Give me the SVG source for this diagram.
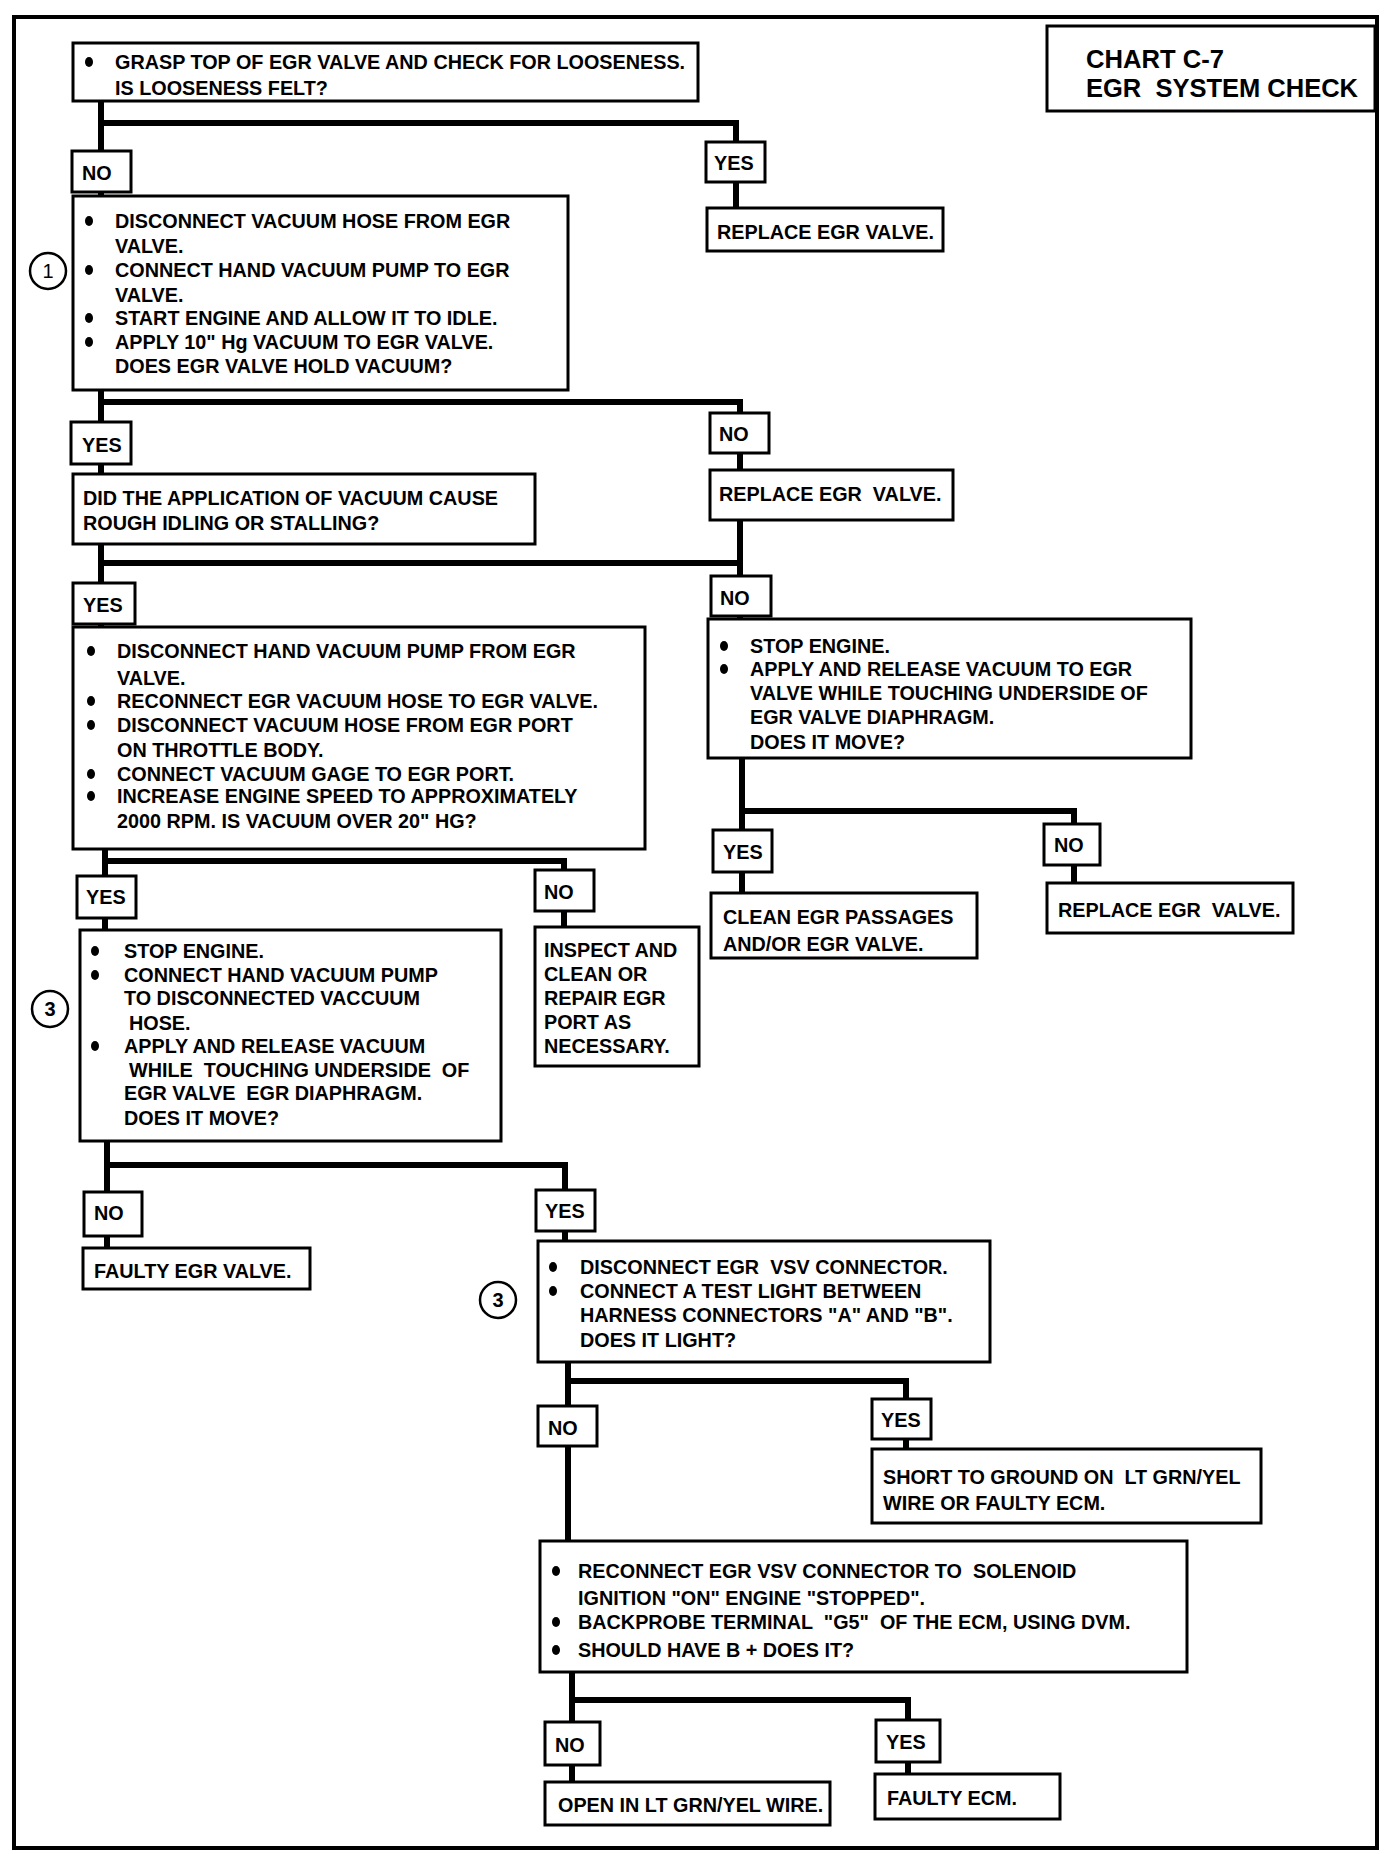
<svg xmlns="http://www.w3.org/2000/svg" width="1392" height="1854" viewBox="0 0 1392 1854" xml:space="preserve">
<style>
.bx{fill:#fff;stroke:#000;stroke-width:3}
.lb{fill:#fff;stroke:#000;stroke-width:3}
.t{font-family:"Liberation Sans",Arial,sans-serif;font-weight:bold;font-size:19.8px;fill:#000;white-space:pre}
.ti{font-family:"Liberation Sans",Arial,sans-serif;font-weight:bold;font-size:25px;fill:#000;white-space:pre}
.cn{fill:none;stroke:#000;stroke-width:6}
.bu{fill:#000}
.cc{fill:#fff;stroke:#000;stroke-width:2.5}
.cnum{font-family:"Liberation Sans",Arial,sans-serif;font-size:20px;fill:#000;text-anchor:middle}
</style>
<rect x="0" y="0" width="1392" height="1854" fill="#fff"/>
<rect x="14" y="17" width="1363" height="1831" fill="none" stroke="#000" stroke-width="4"/>
<g id="title">
<rect x="1047" y="26" width="328" height="85" class="bx"/>
<text class="ti" x="1086" y="68" textLength="138" lengthAdjust="spacingAndGlyphs">CHART C-7</text>
<text class="ti" x="1086" y="97" textLength="272" lengthAdjust="spacingAndGlyphs">EGR  SYSTEM CHECK</text>
</g>
<g id="connectors">
<path class="cn" d="M101 100 V196 M101 123 H736 V208"/>
<path class="cn" d="M101 390 V627 M101 402 H740 V619 M101 563 H740"/>
<path class="cn" d="M105 849 V930 M105 861 H564 V927"/>
<path class="cn" d="M742 758 V893 M742 811 H1074 V883"/>
<path class="cn" d="M107 1141 V1248 M107 1165 H565 V1241"/>
<path class="cn" d="M568 1362 V1541 M568 1381 H906 V1449"/>
<path class="cn" d="M572 1672 V1782 M572 1700 H908 V1774"/>
</g>
<g id="q1">
<rect x="73" y="43" width="625" height="58" class="bx"/>
<ellipse class="bu" cx="89" cy="62" rx="4" ry="5"/>
<text class="t" x="115" y="69">GRASP TOP OF EGR VALVE AND CHECK FOR LOOSENESS.</text>
<text class="t" x="115" y="95">IS LOOSENESS FELT?</text>
</g>
<g id="q1-no"><rect x="72" y="151" width="59" height="41" class="lb"/><text class="t" x="82" y="180">NO</text></g>
<g id="q1-yes"><rect x="706" y="142" width="59" height="40" class="lb"/><text class="t" x="714" y="170">YES</text></g>
<g id="replace1"><rect x="707" y="208" width="236" height="43" class="bx"/><text class="t" x="717" y="239">REPLACE EGR VALVE.</text></g>
<g id="step1">
<rect x="73" y="196" width="495" height="194" class="bx"/>
<ellipse class="bu" cx="89" cy="221" rx="4" ry="5"/>
<ellipse class="bu" cx="89" cy="270" rx="4" ry="5"/>
<ellipse class="bu" cx="89" cy="318" rx="4" ry="5"/>
<ellipse class="bu" cx="89" cy="342" rx="4" ry="5"/>
<text class="t" x="115" y="228">DISCONNECT VACUUM HOSE FROM EGR</text>
<text class="t" x="115" y="253">VALVE.</text>
<text class="t" x="115" y="277">CONNECT HAND VACUUM PUMP TO EGR</text>
<text class="t" x="115" y="302">VALVE.</text>
<text class="t" x="115" y="325">START ENGINE AND ALLOW IT TO IDLE.</text>
<text class="t" x="115" y="349">APPLY 10" Hg VACUUM TO EGR VALVE.</text>
<text class="t" x="115" y="373">DOES EGR VALVE HOLD VACUUM?</text>
<circle class="cc" cx="48" cy="271" r="18"/>
<text class="cnum" x="48" y="278">1</text>
</g>
<g id="step1-yes"><rect x="71" y="422" width="60" height="42" class="lb"/><text class="t" x="82" y="452">YES</text></g>
<g id="step1-no"><rect x="710" y="413" width="59" height="40" class="lb"/><text class="t" x="719" y="441">NO</text></g>
<g id="replace2"><rect x="710" y="470" width="243" height="50" class="bx"/><text class="t" x="719" y="501">REPLACE EGR  VALVE.</text></g>
<g id="q2">
<rect x="73" y="474" width="462" height="70" class="bx"/>
<text class="t" x="83" y="505">DID THE APPLICATION OF VACUUM CAUSE</text>
<text class="t" x="83" y="530">ROUGH IDLING OR STALLING?</text>
</g>
<g id="q2-yes"><rect x="73" y="583" width="62" height="41" class="lb"/><text class="t" x="83" y="612">YES</text></g>
<g id="q2-no"><rect x="711" y="576" width="60" height="40" class="lb"/><text class="t" x="720" y="605">NO</text></g>
<g id="step2">
<rect x="73" y="627" width="572" height="222" class="bx"/>
<ellipse class="bu" cx="91" cy="651" rx="4" ry="5"/>
<ellipse class="bu" cx="91" cy="701" rx="4" ry="5"/>
<ellipse class="bu" cx="91" cy="725" rx="4" ry="5"/>
<ellipse class="bu" cx="91" cy="774" rx="4" ry="5"/>
<ellipse class="bu" cx="91" cy="796" rx="4" ry="5"/>
<text class="t" x="117" y="658">DISCONNECT HAND VACUUM PUMP FROM EGR</text>
<text class="t" x="117" y="685">VALVE.</text>
<text class="t" x="117" y="708">RECONNECT EGR VACUUM HOSE TO EGR VALVE.</text>
<text class="t" x="117" y="732">DISCONNECT VACUUM HOSE FROM EGR PORT</text>
<text class="t" x="117" y="757">ON THROTTLE BODY.</text>
<text class="t" x="117" y="781">CONNECT VACUUM GAGE TO EGR PORT.</text>
<text class="t" x="117" y="803">INCREASE ENGINE SPEED TO APPROXIMATELY</text>
<text class="t" x="117" y="828">2000 RPM. IS VACUUM OVER 20" HG?</text>
</g>
<g id="step3">
<rect x="708" y="619" width="483" height="139" class="bx"/>
<ellipse class="bu" cx="724" cy="646" rx="4" ry="5"/>
<ellipse class="bu" cx="724" cy="669" rx="4" ry="5"/>
<text class="t" x="750" y="653">STOP ENGINE.</text>
<text class="t" x="750" y="676">APPLY AND RELEASE VACUUM TO EGR</text>
<text class="t" x="750" y="700">VALVE WHILE TOUCHING UNDERSIDE OF</text>
<text class="t" x="750" y="724">EGR VALVE DIAPHRAGM.</text>
<text class="t" x="750" y="749">DOES IT MOVE?</text>
</g>
<g id="step3-yes"><rect x="713" y="830" width="59" height="42" class="lb"/><text class="t" x="723" y="859">YES</text></g>
<g id="step3-no"><rect x="1044" y="824" width="56" height="41" class="lb"/><text class="t" x="1054" y="852">NO</text></g>
<g id="clean"><rect x="711" y="893" width="266" height="65" class="bx"/>
<text class="t" x="723" y="924">CLEAN EGR PASSAGES</text>
<text class="t" x="723" y="951">AND/OR EGR VALVE.</text></g>
<g id="replace3"><rect x="1047" y="883" width="246" height="50" class="bx"/><text class="t" x="1058" y="917">REPLACE EGR  VALVE.</text></g>
<g id="step2-yes"><rect x="77" y="876" width="59" height="42" class="lb"/><text class="t" x="86" y="904">YES</text></g>
<g id="step2-no"><rect x="535" y="870" width="59" height="41" class="lb"/><text class="t" x="544" y="899">NO</text></g>
<g id="inspect"><rect x="535" y="927" width="164" height="139" class="bx"/>
<text class="t" x="544" y="957">INSPECT AND</text>
<text class="t" x="544" y="981">CLEAN OR</text>
<text class="t" x="544" y="1005">REPAIR EGR</text>
<text class="t" x="544" y="1029">PORT AS</text>
<text class="t" x="544" y="1053">NECESSARY.</text></g>
<g id="step4">
<rect x="80" y="930" width="421" height="211" class="bx"/>
<ellipse class="bu" cx="95" cy="951" rx="4" ry="5"/>
<ellipse class="bu" cx="95" cy="975" rx="4" ry="5"/>
<ellipse class="bu" cx="95" cy="1046" rx="4" ry="5"/>
<text class="t" x="124" y="958">STOP ENGINE.</text>
<text class="t" x="124" y="982">CONNECT HAND VACUUM PUMP</text>
<text class="t" x="124" y="1005">TO DISCONNECTED VACCUUM</text>
<text class="t" x="129" y="1030">HOSE.</text>
<text class="t" x="124" y="1053">APPLY AND RELEASE VACUUM</text>
<text class="t" x="129" y="1077">WHILE  TOUCHING UNDERSIDE  OF</text>
<text class="t" x="124" y="1100">EGR VALVE  EGR DIAPHRAGM.</text>
<text class="t" x="124" y="1125">DOES IT MOVE?</text>
<circle class="cc" cx="50" cy="1009" r="18"/>
<text class="cnum" x="50" y="1016" font-weight="bold">3</text>
</g>
<g id="step4-no"><rect x="84" y="1192" width="58" height="44" class="lb"/><text class="t" x="94" y="1220">NO</text></g>
<g id="step4-yes"><rect x="536" y="1190" width="59" height="41" class="lb"/><text class="t" x="545" y="1218">YES</text></g>
<g id="faulty-egr"><rect x="83" y="1248" width="227" height="41" class="bx"/><text class="t" x="94" y="1278">FAULTY EGR VALVE.</text></g>
<g id="step5">
<rect x="538" y="1241" width="452" height="121" class="bx"/>
<ellipse class="bu" cx="553" cy="1267" rx="4" ry="5"/>
<ellipse class="bu" cx="553" cy="1291" rx="4" ry="5"/>
<text class="t" x="580" y="1274">DISCONNECT EGR  VSV CONNECTOR.</text>
<text class="t" x="580" y="1298">CONNECT A TEST LIGHT BETWEEN</text>
<text class="t" x="580" y="1322">HARNESS CONNECTORS "A" AND "B".</text>
<text class="t" x="580" y="1347">DOES IT LIGHT?</text>
<circle class="cc" cx="498" cy="1300" r="18"/>
<text class="cnum" x="498" y="1307" font-weight="bold">3</text>
</g>
<g id="step5-no"><rect x="538" y="1406" width="59" height="40" class="lb"/><text class="t" x="548" y="1435">NO</text></g>
<g id="step5-yes"><rect x="872" y="1399" width="59" height="40" class="lb"/><text class="t" x="881" y="1427">YES</text></g>
<g id="short"><rect x="872" y="1449" width="389" height="74" class="bx"/>
<text class="t" x="883" y="1484">SHORT TO GROUND ON  LT GRN/YEL</text>
<text class="t" x="883" y="1510">WIRE OR FAULTY ECM.</text></g>
<g id="step6">
<rect x="540" y="1541" width="647" height="131" class="bx"/>
<ellipse class="bu" cx="556" cy="1571" rx="4" ry="5"/>
<ellipse class="bu" cx="556" cy="1622" rx="4" ry="5"/>
<ellipse class="bu" cx="556" cy="1650" rx="4" ry="5"/>
<text class="t" x="578" y="1578">RECONNECT EGR VSV CONNECTOR TO  SOLENOID</text>
<text class="t" x="578" y="1605">IGNITION "ON" ENGINE "STOPPED".</text>
<text class="t" x="578" y="1629">BACKPROBE TERMINAL  "G5"  OF THE ECM, USING DVM.</text>
<text class="t" x="578" y="1657">SHOULD HAVE B + DOES IT?</text>
</g>
<g id="step6-no"><rect x="545" y="1722" width="55" height="43" class="lb"/><text class="t" x="555" y="1752">NO</text></g>
<g id="step6-yes"><rect x="876" y="1720" width="64" height="42" class="lb"/><text class="t" x="886" y="1749">YES</text></g>
<g id="open"><rect x="545" y="1782" width="285" height="43" class="bx"/><text class="t" x="558" y="1812">OPEN IN LT GRN/YEL WIRE.</text></g>
<g id="faulty-ecm"><rect x="875" y="1774" width="185" height="45" class="bx"/><text class="t" x="887" y="1805">FAULTY ECM.</text></g>
</svg>
